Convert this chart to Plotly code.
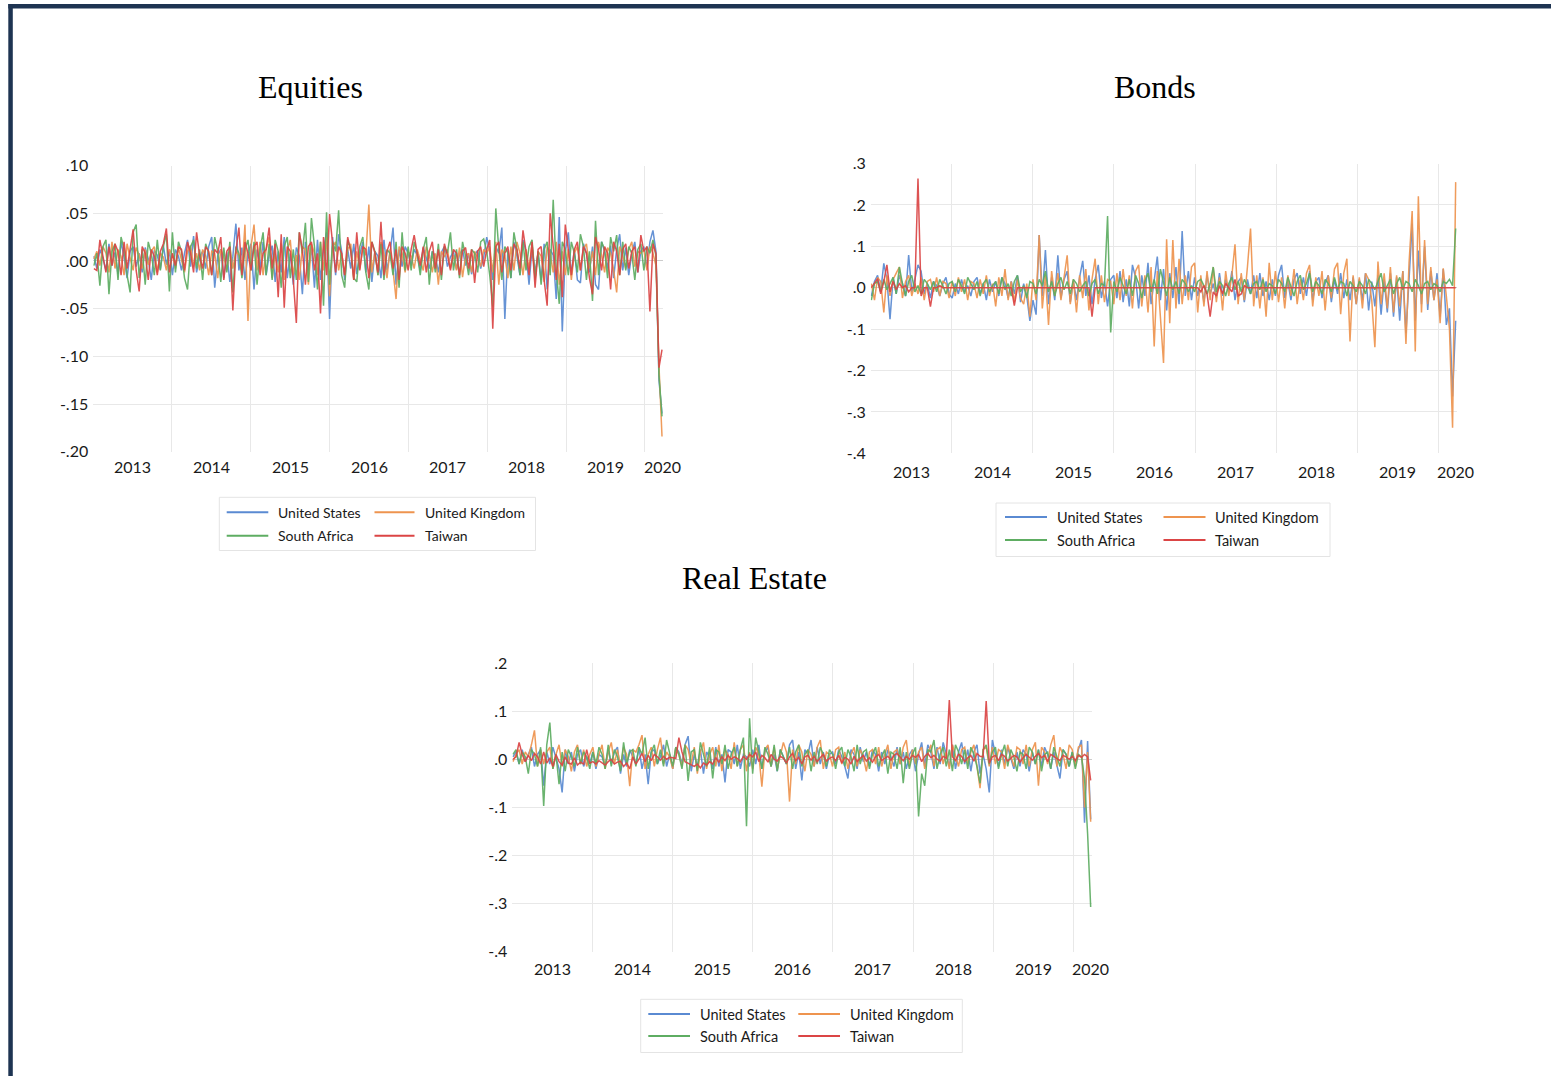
import pandas as pd
import plotly.graph_objects as go

W, H = 1551, 1076
N = 189
DATES = pd.date_range("2013-01-04", periods=N, freq="14D").strftime("%Y-%m-%d").tolist()

SERIES = ["United States", "United Kingdom", "South Africa", "Taiwan"]
COLORS = ["#5A8AD2", "#EE944F", "#5EAD62", "#DB4545"]
YEAR_LABELS = ["2013", "2014", "2015", "2016", "2017", "2018", "2019", "2020"]
YEAR_LABEL_AT = ["2013-07-02", "2014-07-02", "2015-07-02", "2016-07-02",
                 "2017-07-02", "2018-07-02", "2019-07-02", "2020-03-20"]
YEAR_GRID = ["2014-01-01", "2015-01-01", "2016-01-01", "2017-01-01",
             "2018-01-01", "2019-01-01", "2020-01-01"]

# ---------------- Equities (thousandths) ----------------
EQ_US = [5, -8, 12, 3, -10, 18, -5, 9, -14, 20, 4, -18, 10, 15, -6, 8, -12, 14, 2, -20, 11, 6, -9, 16, -4, 10,
         -15, 12, 5, -10, 8, 22, -6, 26, -12, 4, 10, -8, 15, 25, -28, 6, 12, -18, 9, -22, 5, 39, -10, 14, -20, 8,
         18, -30, 12, -8, 20, -15, 6, 16, -22, 10, -12, 25, -18, 8, -25, 14, 5, -35, 20, -10, 15, -28, 22, -20, 12, 30,
         -61, 25, -15, 28, 10, -20, 12, -8, 18, -14, 6, 20, -12, 15, -22, 10, 5, -18, 22, -10, 8, 35, -25, 12, -6, 15,
         8, -5, 12, 6, -10, 14, 3, -8, 10, 5, -12, 9, 15, -6, 4, 10, -9, 7, 12, -5, 8, -14, 6, 11, -8, 4,
         25, 10, -20, 15, 8, 35, -61, 12, -18, 20, 5, -15, 22, 10, -25, 14, -12, 8, -20, 18, -30, 12, 6, -40, 46, -74,
         10, 30, -15, 12, -20, -23, 18, 8, -12, 15, -25, -30, 20, 10, -8, 16, -18, 12, 28, -10, 14, -15, 8, 20, -12, 10,
         15, -8, 20, 32, 10, -125, -160]
EQ_UK = [2, 10, -5, 15, 8, -12, 20, -8, 12, 5, -15, 18, 3, -10, 14, 6, -8, 12, -4, 10, 15, -12, 8, 4, -10, 12,
         6, -8, 14, 2, -12, 10, 16, -6, 8, -10, 12, 5, -15, 10, 8, -18, 12, 4, -10, 15, -8, 10, 6, -12, 38, -63,
         15, 38, -10, 20, -15, 12, 25, -18, 8, -12, 18, -20, 10, 22, -15, 6, -20, 15, 12, -25, 18, 8, -15, 20, -10, 25,
         -37, 15, 20, -10, 8, -15, 12, 18, -20, 10, -8, 14, 6, 59, -12, 10, -15, 20, 8, -18, 12, -10, -40, 15, 8, -12,
         10, 5, -8, 12, 2, -10, 15, 6, -12, 8, -25, 10, 4, 12, -8, 6, -10, 14, -17, 5, 8, -12, 10, 3, -6, 12,
         8, 15, -12, 20, -25, 12, 6, -18, 15, -10, 20, 8, -15, 12, -8, 18, -20, 10, 5, -22, 15, 8, -12, 20, -25, 10,
         -15, 12, -20, 8, 15, -10, 12, 18, -8, 10, -15, 20, 6, -12, 14, 8, -10, -33, 15, 5, -8, 12, 20, -6, 10, 8,
         12, -10, 15, 8, -5, -110, -184]
EQ_SA = [-5, 8, -26, 15, 22, -35, 10, 18, -20, 25, 12, -15, -33, 30, 38, -18, 12, -25, 20, 8, -15, 22, -10, 15, 28, -32,
         30, -12, 20, 10, -18, -30, 15, 22, -8, 12, -20, 18, 8, -15, 25, 10, -22, 14, -12, 20, -33, 15, 8, -18, 12, 22,
         -10, 20, -25, 12, 30, -15, 18, -20, 22, 10, -28, 15, 25, -18, 12, -20, 30, 8, 40, -22, 45, 15, -30, 20, -47, 51,
         -25, 20, 10, 53, -15, -28, 22, 12, -18, -22, 15, 25, -12, -30, 20, 10, -15, 18, -20, 12, 8, -15, 20, -28, 30, -10,
         15, -10, 20, 8, -15, 12, 25, -25, 10, -12, 18, -20, 15, 8, 30, -10, 12, -18, 20, 5, -15, 12, 8, -12, 20, 23,
         10, -15, -48, 55, 12, -20, 15, 8, -18, 30, 12, -15, 20, -10, 15, 22, -18, 10, -25, 12, 20, -15, 64, -10, -45, 20,
         12, -15, 20, 8, -12, 28, 15, -20, 10, -42, 42, -15, 20, 12, -18, 25, 10, 27, -15, 20, -10, 15, 8, -20, 12, 18,
         -10, 15, 8, 22, 5, -120, -163]
EQ_TW = [-8, -10, 22, 5, -12, 15, -5, 18, 10, -15, 20, -8, 12, 33, -10, -32, 15, 8, -20, 12, 5, -15, 10, 18, 34, -12,
         8, -5, 15, 12, -10, 20, 8, -12, 30, 5, -8, 15, 10, -15, 12, 8, 25, -20, 10, 15, -52, 10, 35, -15, 20, 8,
         -10, 15, 20, -15, 8, 12, 35, -8, 18, -38, 28, -49, 15, 10, -20, -65, 30, 12, -25, 15, 20, -10, 8, -55, 25, -15,
         49, 20, -12, 15, 8, -15, 25, 10, -20, 30, -10, 15, 12, -18, 20, 8, -12, 41, -15, 10, 20, -8, 12, -20, 15, 8,
         -10, 12, 27, 8, -5, 15, -12, 10, 20, -8, 12, -15, 18, 6, -10, 12, 8, -15, 10, 14, -8, 12, -23, 10, 15, -6,
         12, 22, -71, 15, 20, -12, 8, 15, -10, 18, 12, -8, 32, 10, -15, 20, -28, 12, 15, -20, -47, 50, 12, -20, 18, -38,
         38, 10, -15, 12, 20, -10, 15, 8, -18, -35, 25, 12, -10, 15, 8, -30, 20, 10, -15, 12, 18, -8, 10, 15, -12, 27,
         10, 15, -53, 18, 8, -112, -93]

# ---------------- Bonds (thousandths) ----------------
BD_US = [-20, 15, 30, -10, 59, 20, -76, 25, -15, 30, 10, -20, 79, -10, 20, 55, 40, -15, 10, -25, 15, 5, -20, 10, 25, -15,
         -25, 10, -15, 20, -10, 5, -20, 15, 25, -15, 10, -30, 20, -10, 15, -20, 25, 10, -25, 15, -15, 30, -35, 10, -20, -80,
         -30, -65, 127, -20, 91, -40, 25, -30, 78, -25, 20, 40, -35, 15, -30, 25, 65, -20, 30, -40, 20, 55, -25, 15, -45, 20,
         30, -25, 40, -35, 20, -45, 55, 25, -50, 30, -20, 60, -40, 15, 75, -30, 45, -55, 35, -25, 50, -40, 137, -20, 40, -30,
         25, -20, 15, -35, 30, -15, 10, -25, 35, -20, 20, -10, 40, -30, 15, 25, -35, 20, -15, 30, -25, 35, -20, 15, -30, 20,
         -20, 30, 55, -25, 15, -30, 20, 35, -15, 25, -20, 40, -30, 15, 25, -25, 10, 30, -35, 20, -15, 35, -25, 20, -30, 25,
         -40, 20, -30, 35, -55, 15, -45, 30, -65, 20, -60, 35, -70, 25, -80, 40, -110, 20, 155, -80, 90, -40, 100, -54, 40, -30,
         35, -70, 45, -90, -50, -263, -80]
BD_UK = [10, -30, 25, 15, -60, 30, -20, 20, 35, 50, -25, 15, 30, -20, 10, -15, 25, -30, 15, 20, -10, 25, -20, 15, 10, -25,
         15, -20, 25, -10, 20, -30, 15, 10, -25, 20, -15, 30, -20, 10, -45, 25, -20, 45, -30, 15, -35, 20, -25, -40, 10, -70,
         20, -30, 127, -50, 30, -90, 40, -20, 35, -30, 25, 78, -40, 20, -60, 30, -25, 45, -55, 20, 70, -40, 30, -35, 20, 15,
         -40, 35, -30, 45, -20, 30, -50, 40, 55, -45, 30, -60, 50, -142, 40, -80, -182, 117, -86, 115, -50, 70, -40, 30, -30, 50,
         60, -60, 30, -45, 40, -30, 50, -35, 25, -55, 40, -20, 30, 105, -40, 35, -30, 50, 143, -45, 30, -50, 25, -70, 60, -30,
         40, -35, 25, -50, 30, -20, 45, -40, 20, -30, 35, 55, -45, 25, -20, 40, -55, 30, -25, 45, 60, -64, 35, 70, -130, 30,
         -40, 25, -50, 35, 20, -30, -144, 63, -40, 35, -50, 50, -60, 30, -45, 40, -136, 60, 185, -154, 221, -60, 115, -40, 50, -30,
         20, -86, 47, -20, -100, -338, 255]
BD_SA = [-30, 10, 15, -10, 20, -5, 10, 25, -15, 50, 10, -20, 15, 30, -10, 5, -15, 20, 10, -5, 15, -10, 20, 5, -15, 10,
         15, -10, 20, 5, -15, 25, 10, -5, 15, -20, 10, 20, -10, 5, 15, -15, 25, -5, 10, -20, 15, 30, -10, 5, -25, 15,
         10, -15, 20, 5, 40, -10, 15, -20, 10, 25, -5, 15, -15, 20, 10, -10, 5, 15, -20, 10, 20, -15, 10, 5, 173, -108,
         15, -10, 25, 5, -15, 20, -20, 30, 10, -25, 15, 35, -10, 20, -15, 45, 10, -20, 25, -5, 15, -15, 20, 10, -10, 5,
         -10, 15, 20, 5, -15, 10, 50, -10, 15, 5, -20, 10, 25, -5, 15, -10, 20, 5, -15, 10, 15, -5, 20, -10, 10, 5,
         -15, 20, 10, -10, 25, 5, -20, 15, 30, -5, 10, 35, -10, 15, 5, -15, 20, 10, -10, 25, -5, 15, 10, -20, 15, 5,
         -10, 15, 5, -15, 20, 10, -5, 15, 35, -10, 5, 20, -15, 10, 25, -5, 15, 10, -10, 20, 5, -15, 10, 15, -5, 10,
         5, -10, 15, 10, 20, 5, 143]
BD_TW = [0, 10, 22, -15, 15, 55, -10, 15, -5, 10, 0, 5, -10, 0, 0, 264, -20, 0, 0, -46, 0, 0, 5, 0, 0, 0,
         0, 0, 0, 0, 0, 0, 0, 0, 0, 0, 0, 0, 0, 0, 0, 0, 0, 0, 0, 0, -43, 0, 0, 0, 0, 0,
         0, 0, 0, 0, 0, 0, 0, 0, 0, 0, 0, 0, 0, 0, 0, 0, 0, 0, 0, -70, 0, 0, 0, 0, 0, 0,
         0, 0, 0, 0, 0, 0, 0, 0, 0, 0, 0, 0, 0, 0, 0, 0, 0, 0, 0, 0, 0, 0, 0, 0, 0, 0,
         0, 0, -10, 5, -15, -70, -10, -20, 5, -15, 10, 0, -10, 20, -20, -15, 5, 0, 0, 0, 0, 0, 0, 0, 0, 0,
         0, 0, 0, 0, 0, 0, 0, 0, 0, 0, 0, 0, 0, 0, 0, 0, 0, 0, 0, 0, 0, 0, 0, 0, 0, 0,
         0, 0, 0, 0, 0, 0, 0, 0, 0, 0, 0, 0, 0, 0, 0, 0, 0, 0, 0, 0, 0, 0, 0, 0, 0, 0,
         0, 0, 0, 0, 0, 0, 0]

# ---------------- Real Estate (thousandths) ----------------
RE_US = [5, 15, -10, 20, -5, 10, 25, -15, 10, 20, -55, 15, -10, 25, 5, -20, -69, 20, -10, 15, -25, 10, 20, -15, 5, -10,
         15, -20, 10, 5, -15, 20, -10, 15, 25, -30, 10, -15, 20, 5, -10, 25, -20, 10, -52, 15, 20, -10, 5, 30, -15, 10,
         -20, 25, 15, -10, 30, 48, -25, 10, -15, 20, -30, 15, 5, -20, 25, -15, 10, -48, 20, 15, -10, 30, -20, 10, 5, -15,
         20, -10, 30, -20, 15, 25, -15, 10, -25, 20, 5, -10, 30, 40, -20, 15, -44, 20, 10, 40, -15, 25, -10, 15, -20, 10,
         15, -10, 20, 5, -15, -40, 20, 10, -20, 25, -5, 15, -15, 20, 10, -25, 15, -10, 20, 5, -15, 25, -10, 15, -20, 10,
         20, -25, 10, 35, -15, 30, 15, -20, 25, -10, 35, 10, -15, 30, -20, 15, 35, -10, 20, -25, 15, 30, -30, 10, -20, -69,
         40, 10, -15, 20, -10, 25, 5, -20, 15, -15, 20, 10, -25, 15, -10, 20, -15, 25, 10, -20, 15, -10, -40, 20, 10, -15,
         15, -10, 20, 40, -132, 38, -125]
RE_UK = [-5, 10, 20, -10, 15, 5, 30, 60, -15, 20, -10, 15, 25, -20, 10, 30, -15, 20, 5, -25, 15, 30, -10, 20, -15, 10,
         25, -15, 10, 30, -20, 15, 35, -10, 20, -15, 25, 10, -56, 20, 15, 30, 50, -20, 10, 25, -15, 20, 45, -10, 15, 5,
         -20, 25, 10, -15, 30, 20, -10, 25, -30, 15, 35, -20, 10, 25, -15, 30, -25, 20, 10, -20, 35, -15, 20, 30, -25, 15,
         -20, 25, 10, -57, 20, 30, -15, 25, -20, 10, 35, 15, -88, 20, -10, 30, 15, -25, 20, 10, -15, 25, 40, -20, 15, 10,
         -15, 20, 25, -10, 15, -20, 10, 25, -15, 20, 5, -25, 15, 20, -10, 25, -15, 10, 30, -20, 15, 20, -10, 25, 40, -15,
         20, -10, 15, 25, -20, 10, 30, -15, 20, 25, -10, 15, -20, 30, 10, -15, 20, 25, -10, 15, 30, -20, -60, 20, 25, -15,
         25, -10, 20, 15, -20, 30, 10, -15, 25, 20, -10, 30, -15, 20, 35, -55, 25, 15, -10, 30, 50, -15, 25, 10, -20, 30,
         20, -15, 25, 30, -100, 15, -130]
RE_SA = [10, 20, -10, 15, 5, -30, 20, 10, -15, 25, -97, 30, 76, -20, 10, -52, 15, -25, 20, 5, -15, 25, -10, 15, 5, -20,
         15, -10, 25, 10, -20, 30, -15, 20, 5, -25, 35, -10, 15, 20, -15, 25, 10, 45, -20, 15, 30, -10, 20, -15, 40, 10,
         -15, 25, 10, -20, 30, -45, 15, 20, -25, 35, 10, -15, 25, -40, 20, 15, -10, 30, -20, 10, 25, -15, 20, 45, -139, 85,
         -30, 45, 15, -20, 25, 10, -15, 30, -25, 20, 5, -10, 25, -20, 15, 30, -15, 10, 20, -25, 15, -10, 25, 10, -15, 20,
         10, -20, 15, 25, -15, 20, 5, -25, 30, -10, 15, 20, -20, 10, 25, -15, 5, 20, -30, 15, 10, -20, 25, -50, 15, -20,
         10, 25, -119, -30, -55, 20, 15, 40, -20, 10, 25, -15, 20, -25, 30, 15, -10, 20, -20, 25, 10, -15, -50, 20, 30, -10,
         15, 25, -20, 10, 30, -15, 20, 5, -25, 15, 10, -20, 25, 15, -10, 20, -25, 10, 15, -20, 25, 5, -15, 20, 10, -15,
         15, -20, 10, 5, -40, -155, -307]
RE_TW = [0, 5, 35, 10, -5, 8, -3, 12, 5, -10, 15, -8, 3, -15, 10, -5, -12, 5, -8, -10, 3, -12, -6, -10, 20, -8,
         -5, -10, -3, -8, -12, -5, 0, -10, -6, -4, -15, -8, -20, 5, -10, 0, 12, -5, 8, -3, 10, 5, -2, 6, 0, 4,
         3, 2, 45, 15, -5, -8, -12, -15, -10, -18, -8, -12, -5, -10, 3, -6, 5, -3, 8, 0, 5, 2, -5, 6, 0, 10,
         5, 15, -5, 8, 3, -6, 10, 0, -4, 6, 2, -8, 5, 12, -3, 4, -10, 5, 8, -2, 6, -5, 3, 10, -4, 2,
         5, -3, 8, -8, 4, 0, -10, 6, -5, 2, 8, -4, 3, -6, 5, 10, -3, 2, 6, -2, 8, 12, 5, -3, 6, 0,
         8, 4, 10, -5, 6, 12, 3, 8, 0, -4, 6, 2, 123, 5, -3, 10, 6, -5, 3, 8, -4, 12, 6, 5, 121, -8,
         5, 8, -3, 10, 6, -4, 2, 8, 5, -6, 3, 10, 4, -2, 6, 12, 3, 8, -5, 10, 6, 2, -3, 8, 5, 0,
         6, -3, 8, 4, 10, 5, -44]

EQ_TICKS = [0.10, 0.05, 0.0, -0.05, -0.10, -0.15, -0.20]
EQ_TICKTEXT = [".10", ".05", ".00", "-.05", "-.10", "-.15", "-.20"]
BD_TICKS = [0.3, 0.2, 0.1, 0.0, -0.1, -0.2, -0.3, -0.4]
BD_TICKTEXT = [".3", ".2", ".1", ".0", "-.1", "-.2", "-.3", "-.4"]
RE_TICKS = [0.2, 0.1, 0.0, -0.1, -0.2, -0.3, -0.4]
RE_TICKTEXT = [".2", ".1", ".0", "-.1", "-.2", "-.3", "-.4"]


def px(x):
    return x / W


def py(y):
    return 1 - y / H


FONT = "Lato, Carlito, 'Open Sans', sans-serif"
SERIF = "'Liberation Serif', 'Times New Roman', serif"
GRID = "#E8E8E8"

panels = [
    dict(name="Equities", data=[EQ_US, EQ_UK, EQ_SA, EQ_TW], ax="", x0=93.2, x1=663.3, ytop=165.5, ybot=451.7,
         yr=[-0.20, 0.10], ticks=EQ_TICKS, ticktext=EQ_TICKTEXT, title_xy=(310, 87), lab_y=466,
         legend=dict(box=(219.3, 497.3, 535.5, 550.5), lx=(226.7, 268.3, 374.5, 414.5), tx=(276, 423.3),
                     rows=(512.3, 535.7), fs=14)),
    dict(name="Bonds", data=[BD_US, BD_UK, BD_SA, BD_TW], ax="2", x0=870.7, x1=1457.0, ytop=163.5, ybot=453.3,
         yr=[-0.4, 0.3], ticks=BD_TICKS, ticktext=BD_TICKTEXT, title_xy=(1155, 87), lab_y=471,
         legend=dict(box=(996, 503, 1330, 556.5), lx=(1005, 1047, 1163.5, 1205.5), tx=(1055, 1213),
                     rows=(517, 540), fs=14.5)),
    dict(name="Real Estate", data=[RE_US, RE_UK, RE_SA, RE_TW], ax="3", x0=512.3, x1=1092.0, ytop=663.0, ybot=951.7,
         yr=[-0.4, 0.2], ticks=RE_TICKS, ticktext=RE_TICKTEXT, title_xy=(754, 578), lab_y=968,
         legend=dict(box=(640.7, 999.3, 962.3, 1052.5), lx=(648.3, 690, 798.3, 840), tx=(698.3, 848.3),
                     rows=(1014, 1036), fs=14.5)),
]

fig = go.Figure()
shapes = []
annotations = []
layout_axes = {}

for p in panels:
    xa = "x" + p["ax"]
    ya = "y" + p["ax"]
    for k in range(4):
        fig.add_trace(go.Scatter(
            x=DATES, y=[v / 1000 for v in p["data"][k]], mode="lines", name=SERIES[k],
            line=dict(color=COLORS[k], width=1.5), opacity=0.92,
            xaxis=xa, yaxis=ya, showlegend=False))
    layout_axes["xaxis" + p["ax"]] = dict(
        domain=[px(p["x0"]), px(p["x1"])], type="date",
        range=["2013-01-01", "2020-03-26"], tickmode="array", tickvals=YEAR_GRID,
        showticklabels=False, showgrid=True, gridcolor=GRID, gridwidth=1,
        zeroline=False, showline=False, ticks="", anchor=ya, fixedrange=True, automargin=False)
    layout_axes["yaxis" + p["ax"]] = dict(
        domain=[py(p["ybot"]), py(p["ytop"])], range=p["yr"], tickmode="array",
        tickvals=p["ticks"], ticktext=p["ticktext"], showgrid=True, gridcolor=GRID, gridwidth=1,
        zeroline=True, zerolinecolor="#CFCFCF", zerolinewidth=1.2, showline=False, ticks="",
        tickfont=dict(family=FONT, size=16, color="#1a1a1a"), ticklabelstandoff=4,
        anchor=xa, fixedrange=True, automargin=False)

    # title
    annotations.append(dict(text=p["name"], xref="paper", yref="paper", x=px(p["title_xy"][0]),
                            y=py(p["title_xy"][1]), xanchor="center", yanchor="middle", showarrow=False,
                            font=dict(family=SERIF, size=32, color="#000000")))
    # year labels (tied to the date axis)
    for lab, at in zip(YEAR_LABELS, YEAR_LABEL_AT):
        annotations.append(dict(text=lab, xref=xa, yref="paper", x=at, y=py(p["lab_y"]),
                                xanchor="center", yanchor="middle", showarrow=False,
                                font=dict(family=FONT, size=16, color="#1a1a1a")))
    # legend
    lg = p["legend"]
    bx0, by0, bx1, by1 = lg["box"]
    shapes.append(dict(type="rect", xref="paper", yref="paper", x0=px(bx0), x1=px(bx1), y0=py(by1), y1=py(by0),
                       line=dict(color="#E4E4E4", width=1), fillcolor="rgba(0,0,0,0)"))
    lx = lg["lx"]
    slots = [(lx[0], lx[1], lg["tx"][0], lg["rows"][0]), (lx[2], lx[3], lg["tx"][1], lg["rows"][0]),
             (lx[0], lx[1], lg["tx"][0], lg["rows"][1]), (lx[2], lx[3], lg["tx"][1], lg["rows"][1])]
    for k, (a, b, t, r) in enumerate(slots):
        shapes.append(dict(type="line", xref="paper", yref="paper", x0=px(a), x1=px(b), y0=py(r), y1=py(r),
                           line=dict(color=COLORS[k], width=2)))
        annotations.append(dict(text=SERIES[k], xref="paper", yref="paper", x=px(t), y=py(r),
                                xanchor="left", yanchor="middle", showarrow=False,
                                font=dict(family=FONT, size=lg["fs"], color="#1a1a1a")))

# navy frame (top and left edges)
NAVY = "#1E3452"
shapes.append(dict(type="rect", xref="paper", yref="paper", x0=px(8.3), x1=1.0, y0=py(8.6), y1=py(4.0),
                   line=dict(width=0), fillcolor=NAVY, layer="above"))
shapes.append(dict(type="rect", xref="paper", yref="paper", x0=px(8.3), x1=px(12.8), y0=0.0, y1=py(4.0),
                   line=dict(width=0), fillcolor=NAVY, layer="above"))

fig.update_layout(
    width=W, height=H, autosize=False,
    margin=dict(l=0, r=0, t=0, b=0, pad=0, autoexpand=False),
    paper_bgcolor="white", plot_bgcolor="white",
    shapes=shapes, annotations=annotations, showlegend=False,
    **layout_axes)

fig.write_html("out.html", config=dict(displayModeBar=False),
               post_script="document.body.style.margin='0';document.body.style.overflow='hidden';")
